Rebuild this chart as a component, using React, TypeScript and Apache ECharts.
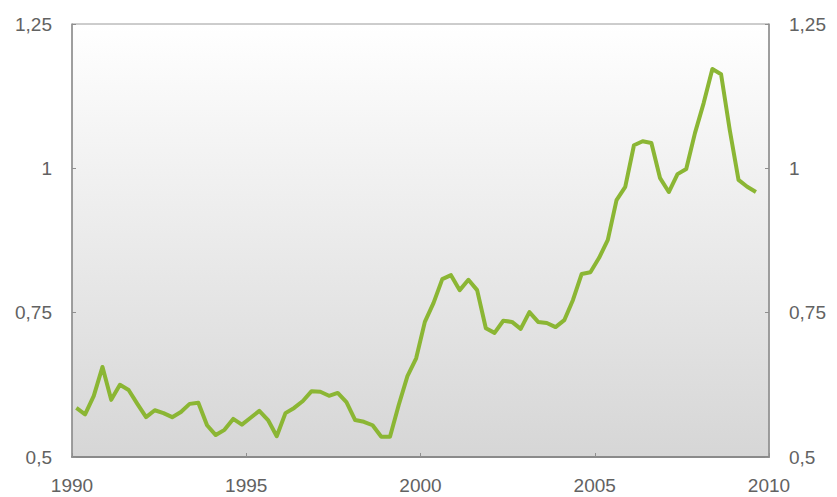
import React, { useEffect, useRef } from "react";
import * as echarts from "echarts";

const startYear = 1990;
// quarterly values, 1990 Q1 .. 2009 Q3
const values: number[] = [
  0.585, 0.574, 0.606, 0.656, 0.599, 0.625, 0.616, 0.592,
  0.569, 0.581, 0.576, 0.569, 0.578, 0.592, 0.594, 0.555,
  0.538, 0.547, 0.566, 0.556, 0.568, 0.58, 0.564, 0.536,
  0.576, 0.585, 0.597, 0.614, 0.613, 0.606, 0.611, 0.595,
  0.564, 0.561, 0.555, 0.535, 0.535, 0.59, 0.64, 0.671,
  0.734, 0.767, 0.808, 0.815, 0.789, 0.807, 0.789, 0.723,
  0.715, 0.736, 0.734, 0.722, 0.751, 0.734, 0.732, 0.725,
  0.737, 0.772, 0.817, 0.82, 0.845, 0.876, 0.945, 0.968,
  1.04, 1.047, 1.044, 0.983, 0.959, 0.99, 0.999, 1.061,
  1.113, 1.172, 1.163, 1.066, 0.98, 0.968, 0.959,
];
const xTicks = [1990, 1995, 2000, 2005, 2010];
const yTicks = [0.5, 0.75, 1, 1.25];

const fmtY = (v: number) => String(v).replace(".", ",");

export default function App() {
  const ref = useRef<HTMLDivElement>(null);
  useEffect(() => {
    if (!ref.current) return;
    const chart = echarts.init(ref.current, undefined, { renderer: "svg" });
    const data = values.map((v, i) => [startYear + (i + 0.5) / 4, v]);
    const labelStyle = {
      color: "#626262",
      fontSize: 19,
      fontFamily: "Liberation Sans, Arial, sans-serif",
    };
    const yAxisCommon = {
      type: "value" as const,
      min: yTicks[0],
      max: yTicks[yTicks.length - 1],
      interval: 0.25,
      splitLine: { show: false },
      axisLine: { show: true, lineStyle: { color: "#8f8f8f", width: 1.5 } },
      axisTick: { show: true, inside: true, length: 4, lineStyle: { color: "#8f8f8f" } },
      axisLabel: { ...labelStyle, margin: 20, formatter: fmtY },
    };
    chart.setOption({
      animation: false,
      backgroundColor: "#ffffff",
      grid: {
        left: 72,
        right: 68,
        top: 24,
        bottom: 40,
        show: true,
        borderColor: "#9a9a9a",
        borderWidth: 1,
        backgroundColor: new echarts.graphic.LinearGradient(0, 0, 0, 1, [
          { offset: 0, color: "#ffffff" },
          { offset: 1, color: "#d6d6d6" },
        ]),
      },
      xAxis: {
        type: "value",
        min: xTicks[0],
        max: xTicks[xTicks.length - 1],
        interval: 5,
        splitLine: { show: false },
        axisLine: { show: true, lineStyle: { color: "#8a8a8a", width: 2 } },
        axisTick: { show: true, inside: true, length: 4, lineStyle: { color: "#8f8f8f" } },
        axisLabel: { ...labelStyle, margin: 19, formatter: (v: number) => String(v) },
      },
      yAxis: [
        { ...yAxisCommon, position: "left" },
        { ...yAxisCommon, position: "right" },
      ],
      series: [
        {
          type: "line",
          data,
          yAxisIndex: 0,
          showSymbol: false,
          lineStyle: { color: "#8bb634", width: 4, join: "round" },
          silent: true,
        },
      ],
    });
    return () => chart.dispose();
  }, []);
  return (
    <div
      ref={ref}
      style={{ position: "fixed", left: 0, top: 0, width: 837, height: 497 }}
    />
  );
}
